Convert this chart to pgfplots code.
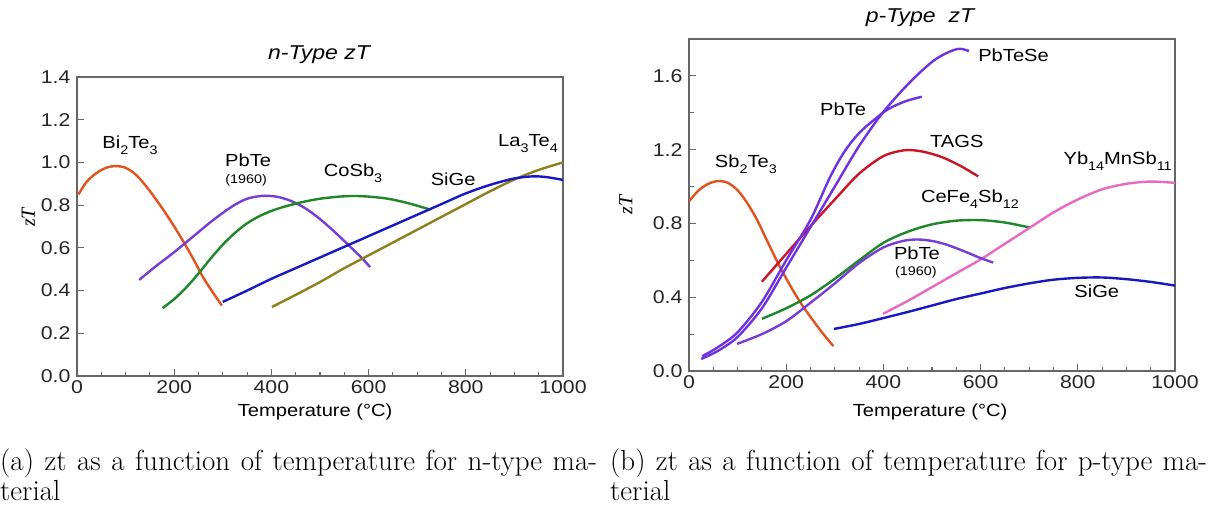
\documentclass[border=0pt]{standalone}
\usepackage{fontspec}
\usepackage{pgfplots}
\pgfplotsset{compat=1.18}
\newfontfamily\arial[FakeStretch=1.15]{Liberation Sans}
\newfontfamily\tnr{Liberation Serif}
\newfontfamily\capfont{lmroman17-regular.otf}
\newcommand\lab{\arial\fontsize{17.5}{17.5}\selectfont}
\newcommand\sub[1]{\raisebox{-6pt}{\arial\fontsize{12.5}{12.5}\selectfont #1}}
\definecolor{cOr}{RGB}{226,82,30}
\definecolor{cPu}{RGB}{120,60,215}
\definecolor{cPb}{RGB}{110,50,225}
\definecolor{cGr}{RGB}{30,135,40}
\definecolor{cBl}{RGB}{25,25,195}
\definecolor{cOl}{RGB}{140,128,30}
\definecolor{cRd}{RGB}{205,20,35}
\definecolor{cPk}{RGB}{232,105,195}
\pgfplotsset{
 ztbase/.style={
  scale only axis, width=486pt, xmin=0, xmax=1000, ymin=0,
  axis line style={draw=black!60, line width=1.3pt},
  every tick/.style={draw=black!60, line width=1.1pt},
  tick align=inside, xtick pos=left, ytick pos=left,
  xtick={0,200,400,600,800,1000}, minor x tick num=3,
  major tick length=7pt, minor tick length=4.5pt,
  ticklabel style={font=\arial\fontsize{18.5}{18.5}\selectfont, text=black!85},
  /pgf/number format/assume math mode=true,
  /pgf/number format/1000 sep={},
  yticklabel style={/pgf/number format/fixed, /pgf/number format/fixed zerofill, /pgf/number format/precision=1, xshift=-3pt},
  xticklabel style={yshift=-1pt},
  xlabel={Temperature (°C)},
  xlabel style={font=\arial\fontsize{17.5}{17.5}\selectfont, anchor=center},
  ylabel={zT},
  ylabel style={font=\tnr\itshape\fontsize{20}{20}\selectfont, anchor=center},
  every axis plot/.append style={line width=2.4pt, smooth, no markers},
 }
}
\begin{document}
\begin{tikzpicture}[x=1pt,y=1pt]
\path[use as bounding box] (0,0) rectangle (1215,515);
% ---------------- n-type
\begin{axis}[ztbase, at={(77pt,139pt)}, anchor=south west, height=299pt, ymax=1.4,
  ytick={0,0.2,0.4,0.6,0.8,1.0,1.2,1.4},
  xlabel style={at={(axis description cs:0.49,-0.12)}},
  ylabel style={at={(axis description cs:-0.1,0.53)}}]
\addplot[cOr] coordinates {(3,0.85) (20,0.91) (40,0.95) (60,0.975) (80,0.983) (100,0.975) (120,0.945) (140,0.895) (160,0.835) (180,0.77) (200,0.70) (220,0.625) (240,0.545) (260,0.46) (280,0.39) (298,0.33)};
\addplot[cPu] coordinates {(128,0.45) (160,0.51) (200,0.58) (240,0.655) (280,0.73) (320,0.795) (350,0.83) (380,0.843) (410,0.84) (440,0.82) (470,0.785) (500,0.735) (530,0.675) (560,0.61) (585,0.555) (603,0.51)};
\addplot[cGr] coordinates {(176,0.318) (200,0.36) (225,0.415) (250,0.48) (275,0.55) (300,0.615) (325,0.67) (350,0.715) (375,0.748) (400,0.773) (430,0.795) (465,0.815) (500,0.83) (540,0.84) (570,0.843) (600,0.84) (640,0.83) (680,0.81) (726,0.78)};
\addplot[cOl] coordinates {(401,0.323) (450,0.38) (500,0.44) (550,0.505) (600,0.565) (650,0.625) (700,0.685) (750,0.745) (800,0.805) (850,0.865) (900,0.92) (950,0.965) (1000,1.0)};
\addplot[cBl] coordinates {(300,0.347) (350,0.40) (400,0.455) (450,0.505) (500,0.555) (550,0.605) (600,0.655) (650,0.705) (700,0.755) (750,0.805) (800,0.855) (850,0.895) (900,0.925) (940,0.935) (970,0.93) (1000,0.918)};
\node[font=\lab] at (axis cs:109,1.08) {Bi\sub{2}Te\sub{3}};
\node[font=\lab] at (axis cs:352,1.01) {PbTe};
\node[font=\arial\fontsize{12.5}{12.5}\selectfont] at (axis cs:348,0.918) {(1960)};
\node[font=\lab] at (axis cs:568,0.95) {CoSb\sub{3}};
\node[font=\lab] at (axis cs:774,0.92) {SiGe};
\node[font=\lab] at (axis cs:928,1.09) {La\sub{3}Te\sub{4}};
\end{axis}
\node[font=\arial\itshape\fontsize{20}{20}\selectfont] at (319,460) {n-Type zT};
% ---------------- p-type
\begin{axis}[ztbase, at={(689pt,144pt)}, anchor=south west, height=332pt, ymax=1.8,
  ytick={0,0.4,0.8,1.2,1.6}, minor y tick num=1,
  xlabel style={at={(axis description cs:0.496,-0.1235)}},
  ylabel style={at={(axis description cs:-0.13,0.5)}}]
\addplot[cOr] coordinates {(0,0.92) (20,0.98) (40,1.015) (60,1.03) (80,1.02) (100,0.98) (120,0.91) (140,0.82) (160,0.71) (185,0.575) (210,0.455) (232,0.36) (255,0.275) (275,0.205) (297,0.135)};
\addplot[cRd] coordinates {(150,0.484) (200,0.635) (250,0.785) (300,0.93) (350,1.07) (400,1.165) (444,1.197) (480,1.19) (520,1.16) (560,1.11) (595,1.055)};
\addplot[cGr] coordinates {(150,0.283) (200,0.34) (250,0.41) (300,0.50) (350,0.60) (400,0.695) (450,0.755) (500,0.795) (550,0.815) (600,0.818) (650,0.805) (701,0.778)};
\addplot[cPk] coordinates {(399,0.31) (450,0.38) (500,0.455) (550,0.53) (600,0.605) (650,0.69) (700,0.775) (750,0.86) (800,0.93) (850,0.985) (900,1.015) (950,1.027) (1000,1.02)};
\addplot[cBl] coordinates {(298,0.228) (350,0.255) (400,0.287) (450,0.32) (500,0.355) (550,0.39) (600,0.42) (650,0.45) (700,0.475) (750,0.495) (800,0.505) (850,0.507) (900,0.498) (950,0.483) (1000,0.463)};
\addplot[cPu] coordinates {(99,0.147) (150,0.20) (200,0.27) (250,0.37) (300,0.475) (350,0.585) (400,0.67) (440,0.705) (470,0.713) (500,0.705) (530,0.685) (570,0.645) (600,0.612) (626,0.588)};
\addplot[cPb] coordinates {(27,0.08) (60,0.13) (100,0.21) (150,0.375) (200,0.60) (250,0.82) (290,1.05) (320,1.19) (350,1.29) (380,1.36) (410,1.42) (445,1.462) (479,1.487)};
\addplot[cPb] coordinates {(25,0.065) (60,0.11) (100,0.185) (150,0.34) (200,0.56) (250,0.78) (300,1.0) (350,1.22) (400,1.405) (455,1.567) (502,1.68) (535,1.73) (557,1.747) (576,1.735)};
\node[font=\lab] at (axis cs:117,1.12) {Sb\sub{2}Te\sub{3}};
\node[font=\lab] at (axis cs:317,1.42) {PbTe};
\node[font=\lab, anchor=west] at (axis cs:588,1.71) {PbTeSe};
\node[font=\lab] at (axis cs:551,1.246) {TAGS};
\node[font=\lab] at (axis cs:578,0.93) {CeFe\sub{4}Sb\sub{12}};
\node[font=\lab] at (axis cs:882,1.14) {Yb\sub{14}MnSb\sub{11}};
\node[font=\lab] at (axis cs:469,0.64) {PbTe};
\node[font=\arial\fontsize{12.5}{12.5}\selectfont] at (axis cs:467,0.533) {(1960)};
\node[font=\lab] at (axis cs:839,0.43) {SiGe};
\end{axis}
\node[font=\arial\itshape\fontsize{20}{20}\selectfont] at (920,497) {p-Type~~zT};
% ---------------- captions
\node[anchor=base west, inner sep=0pt] at (0,45) {\parbox[t]{597pt}{\capfont\fontsize{29}{30}\selectfont (a) zt as a function of temperature for n-type ma-\linebreak terial}};
\node[anchor=base west, inner sep=0pt] at (610,45) {\parbox[t]{597pt}{\capfont\fontsize{29}{30}\selectfont (b) zt as a function of temperature for p-type ma-\linebreak terial}};
\end{tikzpicture}
\end{document}
